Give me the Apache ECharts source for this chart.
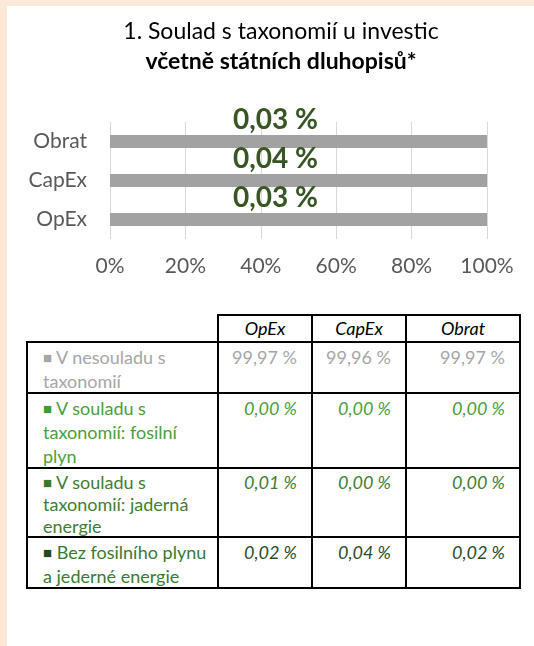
<!DOCTYPE html>
<html lang="cs">
<head>
<meta charset="UTF-8">
<title>Soulad s taxonomií</title>
<style>
body { margin: 0; background: #fff; font-family: Lato, sans-serif; }
.strip { position: absolute; background: #fbe8d6; }
#chart { position: absolute; left: 0; top: 0; width: 534px; height: 300px; }
.cell { position: absolute; box-sizing: border-box; border: 2px solid #000; font-size: 18px; line-height: 24px; white-space: nowrap; }
.head { text-align: center; font-style: italic; font-weight: normal; color: #000; line-height: 24px; }
.lab { padding: 2px 0 0 15px; }
.val { padding: 2px 14px 0 0; text-align: right; }
.sq { font-size: 15px; vertical-align: 1px; }
</style>
</head>
<body>
<div class="strip" style="left:0;top:0;width:534px;height:6px"></div>
<div class="strip" style="left:0;top:0;width:7px;height:646px"></div>
<div id="chart"></div>
<div id="table"></div>
<script src="https://cdn.jsdelivr.net/npm/echarts@6/dist/echarts.min.js"></script>
<script>
// categories (bottom to top in the chart, left to right in the table)
var categories = ['OpEx', 'CapEx', 'Obrat'];
var xTicks = [0, 20, 40, 60, 80, 100];
// shares in %
var nonAligned = [99.97, 99.96, 99.97];
var fossilGas = [0.00, 0.00, 0.00];
var nuclear = [0.01, 0.00, 0.00];
var otherAligned = [0.02, 0.04, 0.02];
var alignedTotal = [0.03, 0.04, 0.03];

var rowLabels = [
    'V nesouladu s\ntaxonomií',
    'V souladu s\ntaxonomií: fosilní\nplyn',
    'V souladu s\ntaxonomií: jaderná\nenergie',
    'Bez fosilního plynu\na jederné energie'
];
var rowValues = [nonAligned, fossilGas, nuclear, otherAligned];

function pct(v) {
    return v.toFixed(2).replace('.', ',') + ' %';
}

var chart = echarts.init(document.getElementById('chart'));
chart.setOption({
    animation: false,
    textStyle: { fontFamily: 'Lato' },
    title: {
        left: 276,
        top: 12,
        textAlign: 'center',
        text: '{a|1. Soulad s taxonomií u investic}\n{b|včetně státních dluhopisů*}',
        textStyle: {
            fontWeight: 'normal',
            rich: {
                a: { fontFamily: 'Lato', fontSize: 23, fontWeight: 'normal', color: '#000', lineHeight: 30 },
                b: { fontFamily: 'Lato', fontSize: 23, fontWeight: 'bold', color: '#000', lineHeight: 30 }
            }
        }
    },
    grid: { left: 110, right: 47, top: 122, bottom: 61 },
    xAxis: {
        type: 'value',
        min: xTicks[0],
        max: xTicks[xTicks.length - 1],
        interval: xTicks[1] - xTicks[0],
        axisLine: { show: false },
        axisTick: { show: false },
        splitLine: { lineStyle: { color: '#d9d9d9', width: 1 } },
        axisLabel: { formatter: '{value}%', color: '#595959', fontSize: 21, margin: 17 }
    },
    yAxis: {
        type: 'category',
        data: categories,
        axisLine: { show: false },
        axisTick: { show: false },
        axisLabel: { color: '#595959', fontSize: 21, margin: 23 }
    },
    series: [
        {
            name: 'V nesouladu s taxonomií',
            type: 'bar',
            stack: 'a',
            barWidth: 13,
            data: nonAligned,
            itemStyle: { color: '#a2a2a2' },
            label: {
                show: true,
                position: 'top',
                offset: [-23, 3.5],
                formatter: function (p) { return pct(alignedTotal[p.dataIndex]); },
                color: '#375623',
                fontWeight: 'bold',
                fontSize: 28
            }
        },
        { name: 'fosilní plyn', type: 'bar', stack: 'a', data: fossilGas, itemStyle: { color: '#3d9e35' } },
        { name: 'jaderná energie', type: 'bar', stack: 'a', data: nuclear, itemStyle: { color: '#377a2a' } },
        { name: 'ostatní', type: 'bar', stack: 'a', data: otherAligned, itemStyle: { color: '#1e4a1e' } }
    ]
});

// table
var colX = [27, 218, 312, 406, 520];
var rowY = [315, 342, 393, 468, 537, 588];
var labelColors = ['#a6a6a6', '#4aa03a', '#3f7e33', '#3a7a30'];
var squareColors = ['#a6a6a6', '#3d9e35', '#377a2a', '#1e4a1e'];
var valueColors = ['#a6a6a6', '#4aa03a', '#3f7e33', '#2e4d25'];
var lineHeights = [24, 24, 22, 24];

var html = '';
function cell(cls, c, r, style, content) {
    var x = colX[c] - 1, y = rowY[r] - 1;
    var w = colX[c + 1] - colX[c] + 2, h = rowY[r + 1] - rowY[r] + 2;
    html += '<div class="cell ' + cls + '" style="left:' + x + 'px;top:' + y + 'px;width:' + w +
        'px;height:' + h + 'px;' + style + '">' + content + '</div>';
}
categories.forEach(function (c, i) {
    cell('head', i + 1, 0, '', c);
});
rowLabels.forEach(function (lab, r) {
    var lh = 'line-height:' + lineHeights[r] + 'px;';
    cell('lab', 0, r + 1, lh + 'color:' + labelColors[r],
        '<span class="sq" style="color:' + squareColors[r] + '">■</span> ' + lab.replace(/\n/g, '<br>'));
    rowValues[r].forEach(function (v, i) {
        cell('val', i + 1, r + 1, lh + 'color:' + valueColors[r] + (r > 0 ? ';font-style:italic' : ''), pct(v));
    });
});
document.getElementById('table').innerHTML = html;
</script>
</body>
</html>
